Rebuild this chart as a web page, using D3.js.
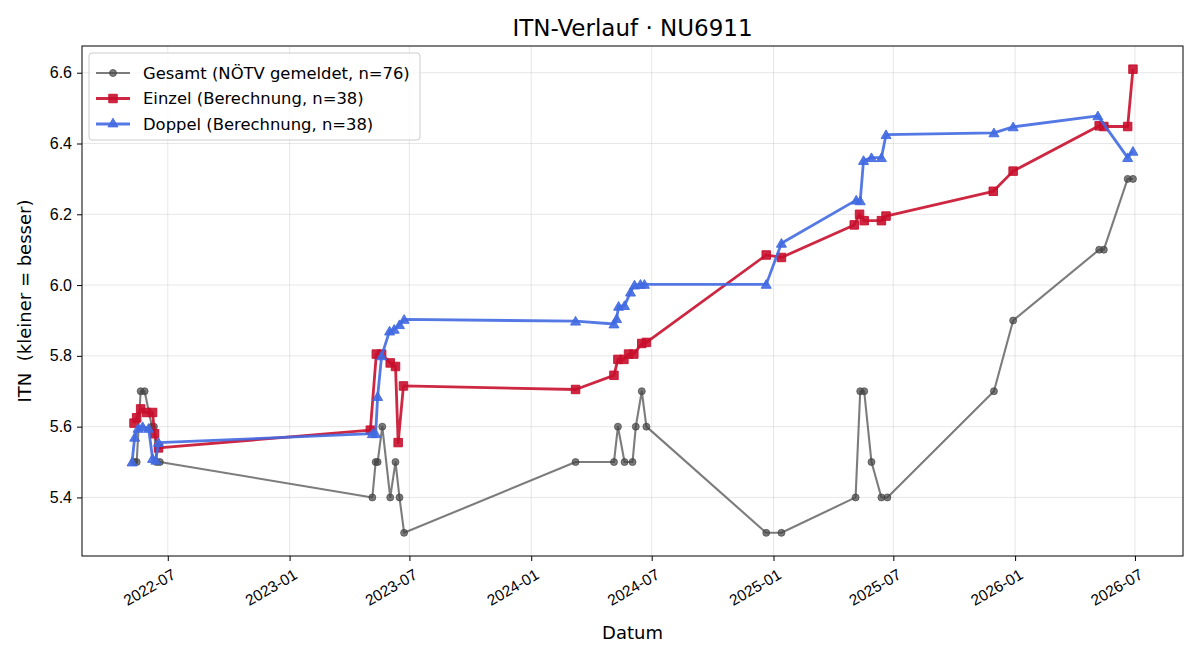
<!DOCTYPE html>
<html>
<head>
<meta charset="utf-8">
<script src="https://cdn.jsdelivr.net/npm/d3@7"></script>
<style>
  body { margin: 0; background: #fff; }
  svg { font-family: "DejaVu Sans", sans-serif; }
</style>
</head>
<body>
<div id="chart"></div>
<script>
// ITN values
const gesamtDates = ['2022-05-11','2022-05-15','2022-05-21','2022-05-27','2022-06-07','2022-06-10','2022-06-14','2022-06-19',
  '2023-05-06','2023-05-11','2023-05-14','2023-05-21','2023-06-02','2023-06-10','2023-06-16','2023-06-23',
  '2024-03-08','2024-05-05','2024-05-11','2024-05-21','2024-06-02','2024-06-07','2024-06-16','2024-06-23',
  '2024-12-21','2025-01-13','2025-05-05','2025-05-12','2025-05-18','2025-05-29','2025-06-13','2025-06-22',
  '2025-11-30','2025-12-29','2026-05-08','2026-05-15','2026-06-20','2026-06-28'];
const gesamtValues = [5.5,5.5,5.7,5.7,5.6,5.6,5.5,5.5,
  5.4,5.5,5.5,5.6,5.4,5.5,5.4,5.3,
  5.5,5.5,5.6,5.5,5.5,5.6,5.7,5.6,
  5.3,5.3,5.4,5.7,5.7,5.5,5.4,5.4,
  5.7,5.9,6.1,6.1,6.3,6.3];

const einzelDates = ['2022-05-11','2022-05-15','2022-05-21','2022-05-30','2022-06-08','2022-06-11','2022-06-17',
  '2023-05-03','2023-05-12','2023-05-20','2023-06-02','2023-06-10','2023-06-14','2023-06-22',
  '2024-03-08','2024-05-05','2024-05-11','2024-05-20','2024-05-27','2024-06-04','2024-06-16','2024-06-23',
  '2024-12-21','2025-01-13','2025-05-03','2025-05-11','2025-05-18','2025-06-13','2025-06-20',
  '2025-11-29','2025-12-29','2026-05-08','2026-05-15','2026-06-20','2026-06-28'];
const einzelValues = [5.61,5.625,5.65,5.64,5.64,5.58,5.54,
  5.59,5.805,5.805,5.78,5.77,5.555,5.715,
  5.705,5.745,5.79,5.79,5.805,5.805,5.835,5.838,
  6.085,6.078,6.17,6.2,6.182,6.182,6.195,
  6.265,6.322,6.45,6.448,6.448,6.61];

const doppelDates = ['2022-05-08','2022-05-12','2022-05-17','2022-05-24','2022-06-02','2022-06-08','2022-06-13','2022-06-17',
  '2023-05-06','2023-05-11','2023-05-14','2023-05-20','2023-06-01','2023-06-08','2023-06-16','2023-06-23',
  '2024-03-08','2024-05-05','2024-05-09','2024-05-12','2024-05-21','2024-05-30','2024-06-05','2024-06-14','2024-06-20',
  '2024-12-21','2025-01-13','2025-05-06','2025-05-12','2025-05-17','2025-05-29','2025-06-13','2025-06-20',
  '2025-11-30','2025-12-29','2026-05-06','2026-06-20','2026-06-28'];
const doppelValues = [5.5,5.57,5.595,5.6,5.595,5.51,5.505,5.555,
  5.58,5.58,5.685,5.80,5.87,5.875,5.888,5.903,
  5.898,5.89,5.905,5.94,5.942,5.98,6.0,6.002,6.002,
  6.002,6.118,6.24,6.238,6.352,6.36,6.36,6.425,
  6.43,6.447,6.478,6.36,6.378];

const yTicks = [5.4, 5.6, 5.8, 6.0, 6.2, 6.4, 6.6];
const xTickDates = ['2022-07-01','2023-01-01','2023-07-01','2024-01-01','2024-07-01','2025-01-01','2025-07-01','2026-01-01','2026-07-01'];

const parse = d3.timeParse('%Y-%m-%d');
const zip = (ds, vs) => ds.map((d, i) => ({ date: parse(d), value: vs[i] }));
const series = [
  { name: 'Gesamt (NÖTV gemeldet, n=76)', data: zip(gesamtDates, gesamtValues), color: '#444444', alpha: 0.7, lw: 2.1, marker: 'circle', size: 7 },
  { name: 'Einzel (Berechnung, n=38)', data: zip(einzelDates, einzelValues), color: '#c8102e', alpha: 0.9, lw: 2.8, marker: 'square', size: 8.5 },
  { name: 'Doppel (Berechnung, n=38)', data: zip(doppelDates, doppelValues), color: '#4169e1', alpha: 0.9, lw: 2.8, marker: 'triangle', size: 8.5 },
];

const width = 1200, height = 660;
const margin = { top: 46, right: 17, bottom: 104, left: 82 };
const iw = width - margin.left - margin.right, ih = height - margin.top - margin.bottom;

const svg = d3.select('#chart').append('svg').attr('width', width).attr('height', height);
const g = svg.append('g').attr('transform', `translate(${margin.left},${margin.top})`);

// matplotlib-like 5% margins
const allPts = series.flatMap(s => s.data);
const xExt = d3.extent(allPts, d => d.date), yExt = d3.extent(allPts, d => d.value);
const xPad = (xExt[1] - xExt[0]) * 0.05, yPad = (yExt[1] - yExt[0]) * 0.05;
const x = d3.scaleTime().domain([new Date(+xExt[0] - xPad), new Date(+xExt[1] + xPad)]).range([0, iw]);
const y = d3.scaleLinear().domain([yExt[0] - yPad, yExt[1] + yPad]).range([ih, 0]);

// grid
g.append('g').selectAll('line').data(xTickDates.map(parse)).enter().append('line')
  .attr('x1', d => x(d)).attr('x2', d => x(d)).attr('y1', 0).attr('y2', ih)
  .attr('stroke', '#b0b0b0').attr('stroke-opacity', 0.3).attr('stroke-width', 1);
g.append('g').selectAll('line').data(yTicks).enter().append('line')
  .attr('y1', d => y(d)).attr('y2', d => y(d)).attr('x1', 0).attr('x2', iw)
  .attr('stroke', '#b0b0b0').attr('stroke-opacity', 0.3).attr('stroke-width', 1);

// axes
const xAxis = g.append('g').attr('transform', `translate(0,${ih})`)
  .call(d3.axisBottom(x).tickValues(xTickDates.map(parse)).tickFormat(d3.timeFormat('%Y-%m')).tickSize(5).tickPadding(4));
xAxis.selectAll('text')
  .attr('text-anchor', 'end').attr('dx', 0).attr('dy', 0)
  .attr('transform', 'translate(4,14) rotate(-30)')
  .style('font-size', '15.5px').attr('fill', '#000');
const yAxis = g.append('g')
  .call(d3.axisLeft(y).tickValues(yTicks).tickFormat(d3.format('.1f')).tickSize(5).tickPadding(5));
yAxis.selectAll('text').style('font-size', '16px').attr('fill', '#000');
[xAxis, yAxis].forEach(a => { a.select('.domain').remove(); a.selectAll('line').attr('stroke', '#000').attr('stroke-width', 1); });
g.append('rect').attr('width', iw).attr('height', ih).attr('fill', 'none').attr('stroke', '#000').attr('stroke-width', 1);

// series
const line = d3.line().x(d => x(d.date)).y(d => y(d.value));
const symbolType = { circle: d3.symbolCircle, square: d3.symbolSquare, triangle: d3.symbolTriangle };
function drawMarker(sel, s) {
  const area = s.marker === 'circle' ? Math.PI * (s.size / 2) ** 2
    : s.marker === 'square' ? s.size * s.size : s.size * s.size * 0.6;
  return sel.attr('d', d3.symbol().type(symbolType[s.marker]).size(area))
    .attr('fill', s.color).attr('fill-opacity', s.alpha)
    .attr('stroke', s.color).attr('stroke-opacity', s.alpha).attr('stroke-width', 1);
}
series.forEach(s => {
  const sg = g.append('g');
  sg.append('path').datum(s.data).attr('d', line).attr('fill', 'none')
    .attr('stroke', s.color).attr('stroke-opacity', s.alpha).attr('stroke-width', s.lw)
    .attr('stroke-linejoin', 'round');
  sg.selectAll('path.m').data(s.data).enter().append('path').attr('class', 'm')
    .attr('transform', d => `translate(${x(d.date)},${y(d.value) + (s.marker === 'triangle' ? 1 : 0)})`)
    .call(drawMarker, s);
});

// legend
const lg = g.append('g').attr('transform', 'translate(7,7)');
lg.append('rect').attr('width', 331).attr('height', 87).attr('rx', 3)
  .attr('fill', '#fff').attr('fill-opacity', 0.8).attr('stroke', '#cccccc');
series.forEach((s, i) => {
  const yy = 20 + i * 25.5;
  lg.append('line').attr('x1', 7).attr('x2', 41).attr('y1', yy).attr('y2', yy)
    .attr('stroke', s.color).attr('stroke-opacity', s.alpha).attr('stroke-width', s.lw);
  lg.append('path').attr('transform', `translate(24,${yy})`).call(drawMarker, s);
  lg.append('text').attr('x', 54).attr('y', yy).attr('dy', '0.35em')
    .style('font-size', '16.4px').text(s.name);
});

// titles
svg.append('text').attr('x', margin.left + iw / 2).attr('y', 36).attr('text-anchor', 'middle')
  .style('font-size', '23px').text('ITN-Verlauf · NU6911');
svg.append('text').attr('x', margin.left + iw / 2).attr('y', 639).attr('text-anchor', 'middle')
  .style('font-size', '18px').text('Datum');
svg.append('text').attr('transform', `translate(31,${margin.top + ih / 2}) rotate(-90)`).attr('text-anchor', 'middle')
  .style('font-size', '18px').style('white-space', 'pre').text('ITN  (kleiner = besser)');
</script>
</body>
</html>
